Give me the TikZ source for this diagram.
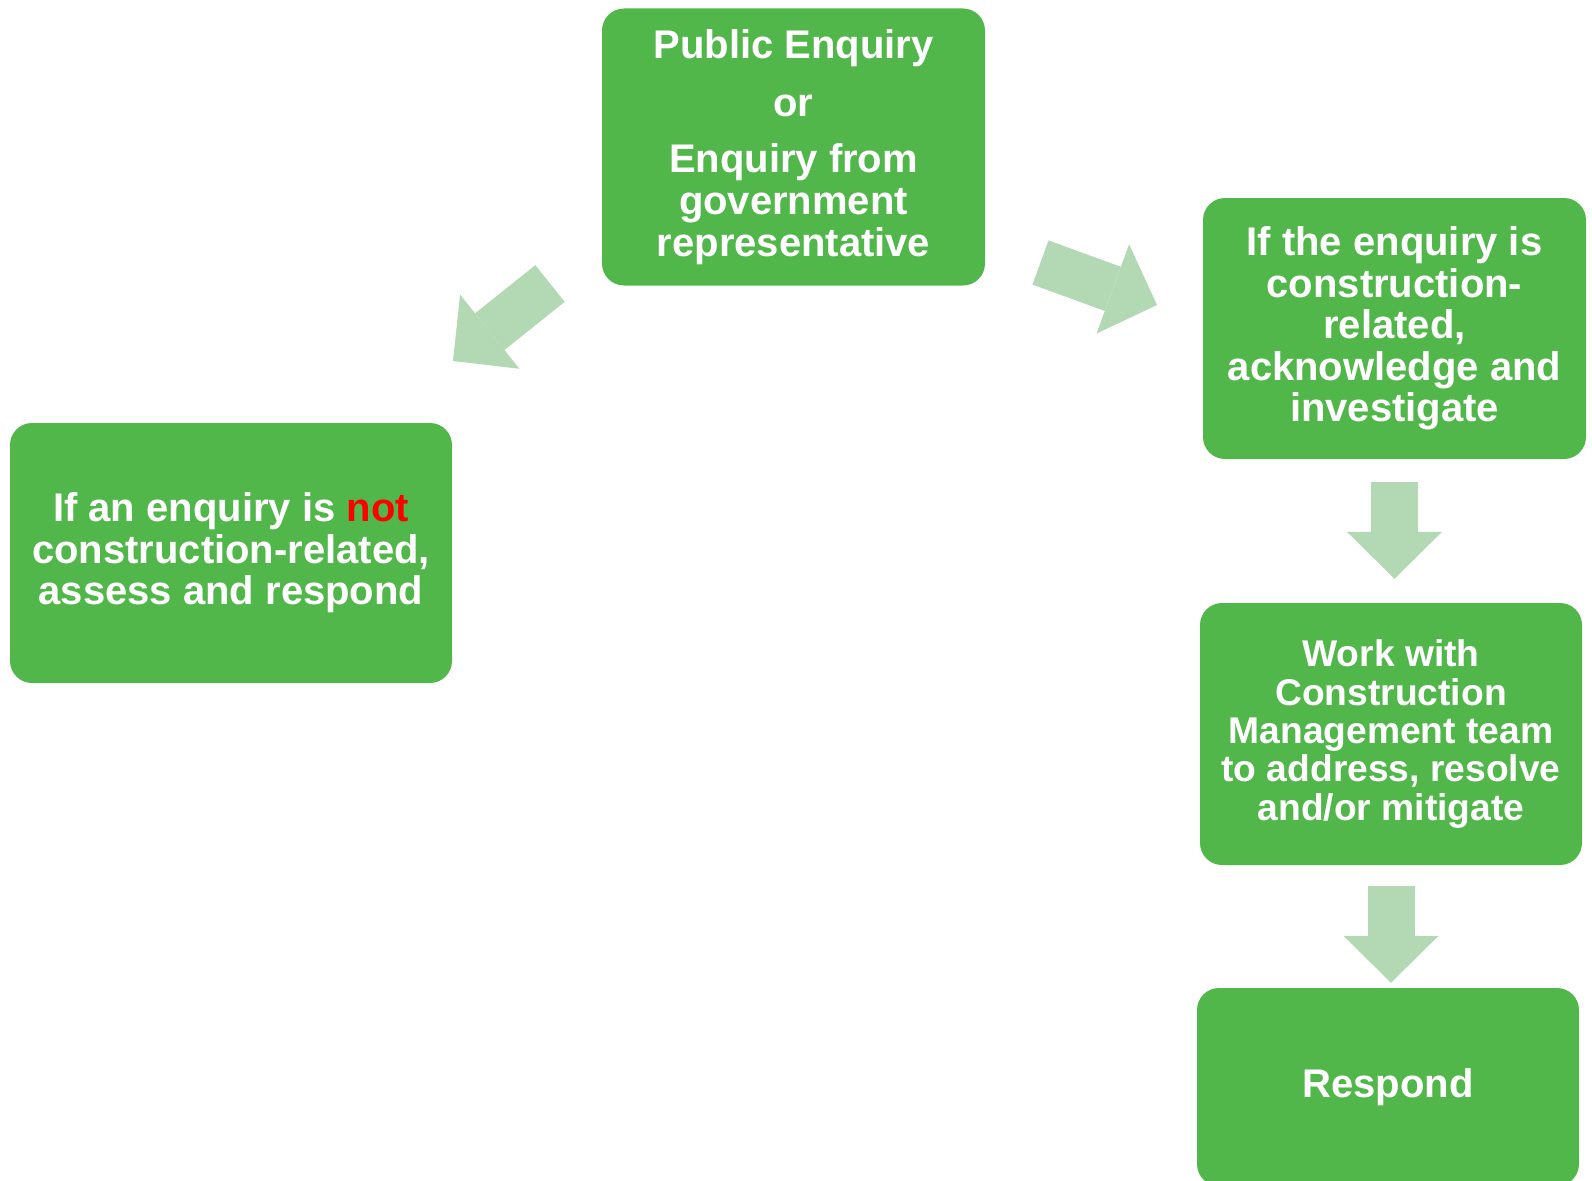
\documentclass[tikz,border=0pt]{standalone}
\usepackage{fontspec}
\setmainfont{Liberation Sans}
\usetikzlibrary{arrows.meta,positioning}
\definecolor{boxgreen}{RGB}{82,183,74}
\definecolor{arrowgreen}{RGB}{179,216,180}

\begin{document}
\begin{tikzpicture}[x=1pt, y=-1pt,
  box/.style = {fill=boxgreen, rounded corners=22pt, text=white, align=center, inner sep=0pt,
    font=\bfseries\fontsize{40}{41.6}\selectfont},
  fat/.style = {draw=arrowgreen, line width=47pt,
    -{Triangle[length=47pt, width=95pt, line width=0pt]}}]
\useasboundingbox (0,0) rectangle (1592,1180);
\node[box, minimum width=383pt, minimum height=277pt] (enq) at (793.5,147)
  {Public Enquiry\\[16pt]or\\[15pt]Enquiry from\\government\\representative};
\node[box, minimum width=383pt, minimum height=261pt] (rel) at (1394.5,328.5)
  {If the enquiry is\\construction-\\related,\\acknowledge and\\investigate};
\node[box, minimum width=442pt, minimum height=260pt] (not) at (231,553)
  {If an enquiry is {\color{red}not}\\construction-related,\\assess and respond};
\node[box, minimum width=382pt, minimum height=262pt, font=\bfseries\fontsize{37.2}{38.4}\selectfont] (work) at (1391,734)
  {Work with\\Construction\\Management team\\to address, resolve\\and/or mitigate};
\node[box, minimum width=382pt, minimum height=198pt] (resp) at (1388,1087) {Respond};
% block arrows
\coordinate (lt) at (550,283.5);
\coordinate (lh) at (453,361);
\coordinate (rt) at (1040.5,262.5);
\coordinate (rh) at (1157,305);
\draw[fat] (lt) -- (lh);
\draw[fat] (rt) -- (rh);
\draw[fat, shorten <=23pt, shorten >=24pt] (rel.south) -- (rel.south |- work.north);
\draw[fat, shorten <=21pt, shorten >=5pt] (work.south) -- (work.south |- resp.north);
\end{tikzpicture}
\end{document}
